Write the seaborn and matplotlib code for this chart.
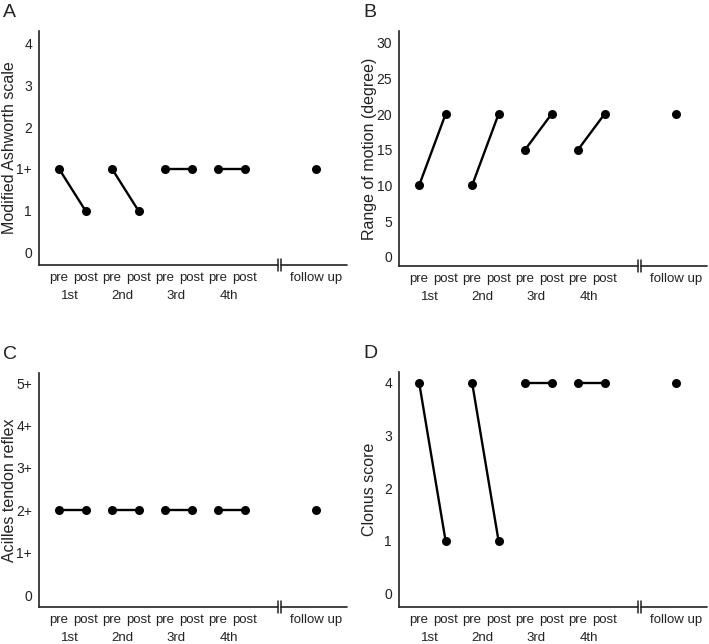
import pandas as pd
import seaborn as sns
import matplotlib.pyplot as plt

# Data
sessions = ['1st', '2nd', '3rd', '4th']
ashworth_pre = [2, 2, 2, 2]      # 1+ is drawn at level 2
ashworth_post = [1, 1, 2, 2]
ashworth_follow = 2
ashworth_labels = ['0', '1', '1+', '2', '3', '4']

rom_pre = [10, 10, 15, 15]
rom_post = [20, 20, 20, 20]
rom_follow = 20

reflex_pre = [2, 2, 2, 2]
reflex_post = [2, 2, 2, 2]
reflex_follow = 2
reflex_labels = ['0', '1+', '2+', '3+', '4+', '5+']

clonus_pre = [4, 4, 4, 4]
clonus_post = [1, 1, 4, 4]
clonus_follow = 4

sns.set_style('white')
plt.rcParams['font.family'] = ['Liberation Sans', 'DejaVu Sans']

FOLLOW_X = 9.7
BREAK_X = 8.25
XLIM = (-0.76, 10.87)
INK = '#222222'


def panel(ax, pre, post, follow, ylabel, letter, ylim, yticks, yticklabels):
    rows = []
    for i, s in enumerate(sessions):
        rows.append({'session': s, 'x': 2 * i, 'value': pre[i]})
        rows.append({'session': s, 'x': 2 * i + 1, 'value': post[i]})
    df = pd.DataFrame(rows)
    sns.lineplot(data=df, x='x', y='value', units='session', estimator=None,
                 color='black', lw=1.7, marker='o', markersize=6.5,
                 markeredgewidth=0, ax=ax)
    sns.scatterplot(x=[FOLLOW_X], y=[follow], color='black', s=42,
                    linewidth=0, ax=ax)

    ax.set_xlim(*XLIM)
    ax.set_ylim(*ylim)
    ax.set_yticks(yticks)
    ax.set_yticklabels(yticklabels)
    xt = list(df['x']) + [FOLLOW_X]
    ax.set_xticks(xt)
    ax.set_xticklabels(['pre', 'post'] * 4 + ['follow up'])
    ax.tick_params(axis='both', length=0, colors=INK)
    ax.tick_params(axis='y', pad=5, labelsize=10)
    ax.tick_params(axis='x', pad=5, labelsize=9.5)
    ax.set_xlabel('')
    ax.set_ylabel(ylabel, fontsize=11.5, color=INK)
    ax.yaxis.set_label_coords(-0.071, 0.5)

    for sp in ['top', 'right', 'bottom']:
        ax.spines[sp].set_visible(False)
    ax.spines['left'].set_color(INK)
    ax.spines['left'].set_linewidth(1.2)

    # broken x axis
    tr = ax.get_xaxis_transform()
    ax.plot([XLIM[0], BREAK_X], [0, 0], transform=tr, color=INK,
            lw=1.2, clip_on=False)
    ax.plot([BREAK_X + 0.14, XLIM[1]], [0, 0], transform=tr, color=INK,
            lw=1.2, clip_on=False)
    for bx in [BREAK_X, BREAK_X + 0.14]:
        ax.plot([bx, bx], [-0.025, 0.025], transform=tr, color=INK,
                lw=1.1, clip_on=False)

    for i, s in enumerate(sessions):
        ax.text(2 * i + 0.4, -0.105, s, transform=tr, ha='center', va='top',
                fontsize=9.5, color=INK)

    ax.text(-0.117, 1.08, letter, transform=ax.transAxes, fontsize=14,
            ha='left', va='center', color=INK)


fig = plt.figure(figsize=(7.09, 6.44), dpi=100)
W, H = 709, 644


def axes_px(left, top, right, bottom):
    return fig.add_axes([left / W, 1 - bottom / H, (right - left) / W,
                         (bottom - top) / H])


axA = axes_px(39, 31, 347, 265)
axB = axes_px(399, 31, 707, 266)
axC = axes_px(39, 373, 347, 607)
axD = axes_px(399, 372, 707, 607)

panel(axA, ashworth_pre, ashworth_post, ashworth_follow,
      'Modified Ashworth scale', 'A', (-0.29, 5.29), range(6), ashworth_labels)
panel(axB, rom_pre, rom_post, rom_follow,
      'Range of motion (degree)', 'B', (-1.3, 31.65), range(0, 31, 5),
      [str(v) for v in range(0, 31, 5)])
panel(axC, reflex_pre, reflex_post, reflex_follow,
      'Acilles tendon reflex', 'C', (-0.28, 5.24), range(6), reflex_labels)
panel(axD, clonus_pre, clonus_post, clonus_follow,
      'Clonus score', 'D', (-0.25, 4.2), range(5),
      [str(v) for v in range(5)])

fig.savefig('out.png', dpi=100)
